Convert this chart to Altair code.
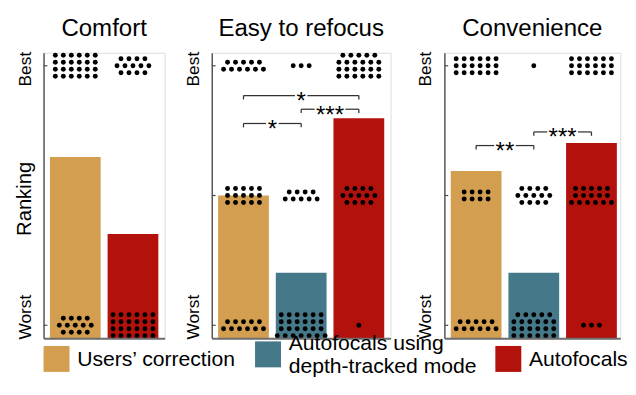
import math
import altair as alt
import pandas as pd

# ---------------- data ----------------
conditions = ["Users’ correction", "Autofocals using\ndepth-tracked mode", "Autofocals"]
cond_colors = ["#D39E4F", "#457989", "#B3110C"]

panel_names = ["Comfort", "Easy to refocus", "Convenience"]
panel_conditions = [
    ["Users’ correction", "Autofocals"],
    conditions,
    conditions,
]
# rank labels from best to worst
panel_levels = [["Best", "Worst"], ["Best", "", "Worst"], ["Best", "", "Worst"]]

# number of participants giving each rank (Best ... Worst), one list per condition
comfort_counts = [[24, 13], [13, 24]]
refocus_counts = [[11, 15, 11], [3, 9, 25], [23, 13, 1]]
convenience_counts = [[18, 8, 11], [1, 13, 23], [18, 16, 3]]
panel_counts = [comfort_counts, refocus_counts, convenience_counts]

# significance brackets
sig_panel = ["Easy to refocus", "Easy to refocus", "Easy to refocus", "Convenience", "Convenience"]
sig_from = ["Users’ correction", "Autofocals using\ndepth-tracked mode", "Users’ correction",
            "Users’ correction", "Autofocals using\ndepth-tracked mode"]
sig_to = ["Autofocals", "Autofocals", "Autofocals using\ndepth-tracked mode",
          "Autofocals using\ndepth-tracked mode", "Autofocals"]
sig_height = [2.77, 2.665, 2.555, 2.385, 2.49]
sig_label = ["*", "***", "*", "**", "***"]

# ---------------- layout constants ----------------
PLOT_H = 297
PX_PER_X = 60
DOT_DX = 8.3
DOT_DY = 7.3
BAR_HALF = 0.44
FONT = "Liberation Sans"
RIGHT_PAD = [0.55, 0.55, 0.5]


def row_counts(n):
    nr = max(1, math.ceil(n / 6.25))
    base, rem = divmod(n, nr)
    counts = [base] * nr
    if rem == 1 and nr % 2 == 1 and nr > 1 and base < 5:
        counts[nr // 2] += 1
    else:
        for i in range(rem):
            counts[nr - 1 - i] += 1
    return counts


def build_panel(p):
    name = panel_names[p]
    conds = panel_conditions[p]
    counts = panel_counts[p]
    nlev = len(panel_levels[p])
    pad = 0.05 * (nlev - 1)
    ydom = [1 - pad, nlev + pad]
    ppu = PLOT_H / (ydom[1] - ydom[0])
    ncond = len(conds)
    xdom = [0.45, ncond + RIGHT_PAD[p]]
    width = PX_PER_X * (xdom[1] - xdom[0])
    xs = alt.Scale(domain=xdom, nice=False, zero=False)
    ys = alt.Scale(domain=ydom, nice=False, zero=False)

    xax = alt.Axis(title=None, labels=False, ticks=False, grid=False,
                   domainColor="#6e6e6e", domainWidth=2, zindex=1)
    label_expr = "datum.value == %d ? 'Best' : (datum.value == 1 ? 'Worst' : '')" % nlev
    yax_kwargs = dict(values=list(range(1, nlev + 1)), labelExpr=label_expr, labelAngle=270,
                      labelFontSize=18, labelFont=FONT, labelColor="black", ticks=False,
                      grid=False, domainColor="#555555", domainWidth=1.5, labelPadding=10,
                      labelOffset=alt.ExprRef("datum.value == 1 ? -9 : 3"),
                      zindex=1)
    if p == 0:
        yax = alt.Axis(title="Ranking", titleFontSize=21, titleFont=FONT, titleFontWeight="normal",
                       titleColor="black", titleX=-10, titleY=PLOT_H / 2 + 3, titleAngle=270,
                       titleBaseline="bottom", titleAlign="center", **yax_kwargs)
    else:
        yax = alt.Axis(title=None, **yax_kwargs)

    bars = []
    dots = []
    pos = {}
    for i, c in enumerate(conds):
        pos[c] = i + 1
        cnt = counts[i]
        total = sum(cnt)
        mean = sum(cnt[k] * (nlev - k) for k in range(nlev)) / total
        bars.append(dict(cond=c, x0=i + 1 - BAR_HALF, x1=i + 1 + BAR_HALF, lo=ydom[0], mean=mean))
        for k in range(nlev):
            level = nlev - k
            rows = row_counts(cnt[k]) if cnt[k] > 0 else []
            nr = len(rows)
            for r, rc in enumerate(rows):
                for j in range(rc):
                    dots.append(dict(
                        x=i + 1 + (j - (rc - 1) / 2) * DOT_DX / PX_PER_X,
                        y=level - (r - (nr - 1) / 2) * DOT_DY / ppu,
                    ))
    bars_df = pd.DataFrame(bars)
    dots_df = pd.DataFrame(dots)
    ticks_df = pd.DataFrame(dict(level=list(range(1, nlev + 1))))

    bar_layer = alt.Chart(bars_df).mark_rect().encode(
        x=alt.X("x0:Q", scale=xs, axis=xax),
        x2="x1:Q",
        y=alt.Y("mean:Q", scale=ys, axis=yax),
        y2="lo:Q",
        color=alt.Color("cond:N", scale=alt.Scale(domain=conditions, range=cond_colors),
                        legend=alt.Legend(orient="none", legendX=0, legendY=300,
                                          direction="horizontal", title=None,
                                          symbolType="square", symbolSize=729,
                                          symbolStrokeWidth=0, symbolOpacity=1,
                                          labelFontSize=22, labelFont=FONT, labelColor="black",
                                          labelLimit=400, labelOffset=8, columnPadding=19,
                                          padding=0,
                                          labelBaseline=alt.ExprRef(
                                              "indexof(datum.label, 'using') >= 0 ? 'bottom' : 'middle'"),
                                          labelExpr="split(datum.label, '\\n')")),
    )
    dot_layer = alt.Chart(dots_df).mark_circle(size=26, color="black", opacity=1).encode(
        x=alt.X("x:Q", scale=xs, axis=xax),
        y=alt.Y("y:Q", scale=ys, axis=yax),
    )
    tick_layer = alt.Chart(ticks_df).mark_rule(color="#444444", strokeWidth=1.2).encode(
        x=alt.value(0), x2=alt.value(4),
        y=alt.Y("level:Q", scale=ys, axis=yax),
    )
    layers = [bar_layer, dot_layer, tick_layer]

    segs, ends, labs = [], [], []
    for sp, sf, st, sh, sl in zip(sig_panel, sig_from, sig_to, sig_height, sig_label):
        if sp != name:
            continue
        a, b = pos[sf], pos[st]
        mid = (a + b) / 2
        gap = (3.5 + 9.5 * len(sl)) / PX_PER_X / 2
        segs.append(dict(xa=a, xb=mid - gap, y=sh))
        segs.append(dict(xa=mid + gap, xb=b, y=sh))
        ends.append(dict(x=a, y=sh, y2=sh - 4 / ppu))
        ends.append(dict(x=b, y=sh, y2=sh - 4 / ppu))
        labs.append(dict(x=mid, y=sh, label=sl))
    if segs:
        layers.append(alt.Chart(pd.DataFrame(segs)).mark_rule(color="#333333", strokeWidth=1.3).encode(
            x=alt.X("xa:Q", scale=xs, axis=xax), x2="xb:Q",
            y=alt.Y("y:Q", scale=ys, axis=yax)))
        layers.append(alt.Chart(pd.DataFrame(ends)).mark_rule(color="#333333", strokeWidth=1.3).encode(
            x=alt.X("x:Q", scale=xs, axis=xax),
            y=alt.Y("y:Q", scale=ys, axis=yax), y2="y2:Q"))
        layers.append(alt.Chart(pd.DataFrame(labs)).mark_text(
            font=FONT, fontSize=25, color="black", align="center", baseline="alphabetic", dy=14
        ).encode(
            x=alt.X("x:Q", scale=xs, axis=xax),
            y=alt.Y("y:Q", scale=ys, axis=yax),
            text="label:N"))

    return alt.layer(*layers).properties(
        width=width, height=PLOT_H,
        title=alt.Title(name, fontSize=25, font=FONT, fontWeight="normal", color="black", offset=11),
    )


panels = [build_panel(p) for p in range(3)]
left_pair = alt.hconcat(panels[0], panels[1], spacing=19)
chart = alt.hconcat(left_pair, panels[2], spacing=26).properties(
    padding={"left": 5, "top": 0, "right": 0, "bottom": 0}
).configure_view(stroke=None).configure(font=FONT)

chart.save("out.html", embed_options={"renderer": "svg", "actions": False})
